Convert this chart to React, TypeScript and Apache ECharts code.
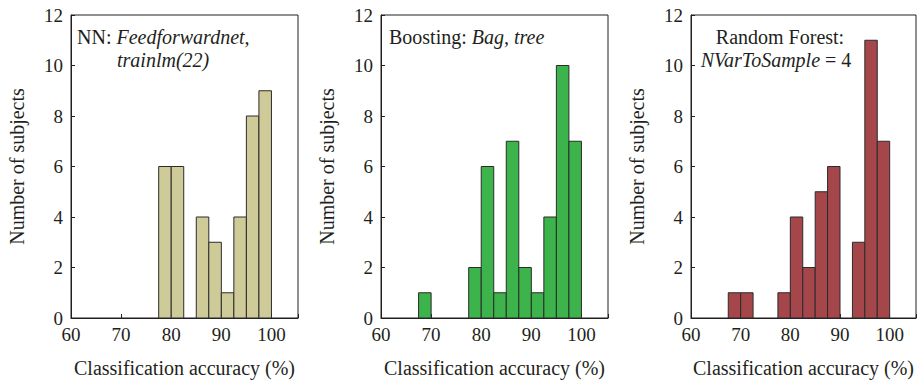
import React, { useEffect, useRef } from "react";
import * as echarts from "echarts";

// Bin edges (left edge of each 2.5-wide bin) shared by the three histograms
const binStarts = [67.5, 70, 72.5, 75, 77.5, 80, 82.5, 85, 87.5, 90, 92.5, 95, 97.5];
const binWidth = 2.5;
const nnCounts = [0, 0, 0, 0, 6, 6, 0, 4, 3, 1, 4, 8, 9];
const boostCounts = [1, 0, 0, 0, 2, 6, 1, 7, 2, 1, 4, 10, 7];
const rfCounts = [1, 1, 0, 0, 1, 4, 2, 5, 6, 0, 3, 11, 7];
const xTicks = [60, 70, 80, 90, 100];
const yTicks = [0, 2, 4, 6, 8, 10, 12];
const xTitle = "Classification accuracy (%)";
const yTitle = "Number of subjects";

const FONT = "'Liberation Serif', 'DejaVu Serif', serif";
const TEXT = "#231f20";

const panels = [
  { counts: nnCounts, color: "#cfcb99", left: 71 },
  { counts: boostCounts, color: "#3db34b", left: 381 },
  { counts: rfCounts, color: "#a5464a", left: 691 },
];

export default function App() {
  const ref = useRef<HTMLDivElement>(null);
  useEffect(() => {
    document.body.style.margin = "0";
    if (!ref.current) return;
    const chart = echarts.init(ref.current, undefined, { renderer: "svg" });
    const grids = panels.map((p) => ({
      left: p.left,
      top: 15,
      width: 227,
      height: 303,
      show: true,
      borderColor: "#231f20",
      borderWidth: 1,
      backgroundColor: "#fff",
    }));
    const xAxes = panels.map((_, i) => ({
      type: "value",
      gridIndex: i,
      min: xTicks[0],
      max: 105.3,
      interval: 10,
      axisLine: { show: true, onZero: false, lineStyle: { color: TEXT } },
      axisTick: { show: true, inside: true, length: 4, lineStyle: { color: TEXT } },
      splitLine: { show: false },
      axisLabel: {
        color: TEXT,
        fontFamily: FONT,
        fontSize: 19,
        margin: 7,
        formatter: (v: number) => (xTicks.includes(v) ? String(v) : ""),
      },
      name: xTitle,
      nameLocation: "middle",
      nameGap: 40,
      nameTextStyle: { color: TEXT, fontFamily: FONT, fontSize: 20 },
    }));
    const yAxes = panels.map((_, i) => ({
      type: "value",
      gridIndex: i,
      min: yTicks[0],
      max: yTicks[yTicks.length - 1],
      interval: 2,
      axisLine: { show: true, lineStyle: { color: TEXT } },
      axisTick: { show: true, inside: true, length: 4, lineStyle: { color: TEXT } },
      splitLine: { show: false },
      axisLabel: { color: TEXT, fontFamily: FONT, fontSize: 19, margin: 8 },
      name: yTitle,
      nameLocation: "middle",
      nameGap: 44,
      nameRotate: 90,
      nameTextStyle: { color: TEXT, fontFamily: FONT, fontSize: 20 },
    }));
    const series = panels.map((p, i) => ({
      type: "custom",
      xAxisIndex: i,
      yAxisIndex: i,
      encode: { x: [0, 1], y: 2 },
      data: binStarts.map((s, k) => [s, s + binWidth, p.counts[k]]),
      renderItem: (params: any, api: any) => {
        const x0 = api.value(0);
        const x1 = api.value(1);
        const y = api.value(2);
        if (!y) return null;
        const a = api.coord([x0, y]);
        const b = api.coord([x1, 0]);
        return {
          type: "rect",
          shape: { x: a[0], y: a[1], width: b[0] - a[0], height: b[1] - a[1] },
          style: { fill: p.color, stroke: "#2b2b2b", lineWidth: 1 },
        };
      },
    }));
    const rich = {
      r: { fontFamily: FONT, fontSize: 20, fill: TEXT, color: TEXT },
      i: { fontFamily: FONT, fontSize: 20, fontStyle: "italic", fill: TEXT, color: TEXT },
    };
    const label = (x: number, y: number, text: string, align = "left") => ({
      type: "text",
      x,
      y,
      z: 100,
      style: {
        text,
        rich,
        align,
        verticalAlign: "middle",
        fontFamily: FONT,
        fontSize: 20,
        fill: TEXT,
      },
    });
    chart.setOption({
      animation: false,
      backgroundColor: "#fff",
      grid: grids,
      xAxis: xAxes,
      yAxis: yAxes,
      series,
      graphic: [
        label(77, 37, "{r|NN: }{i|Feedforwardnet,}"),
        label(117, 60, "{i|trainlm(22)}"),
        label(389, 37, "{r|Boosting: }{i|Bag, tree}"),
        label(780, 37, "{r|Random Forest:}", "center"),
        label(776, 60, "{i|NVarToSample}{r| = 4}", "center"),
      ],
    });
    return () => chart.dispose();
  }, []);
  return <div ref={ref} style={{ width: 919, height: 383 }} />;
}
